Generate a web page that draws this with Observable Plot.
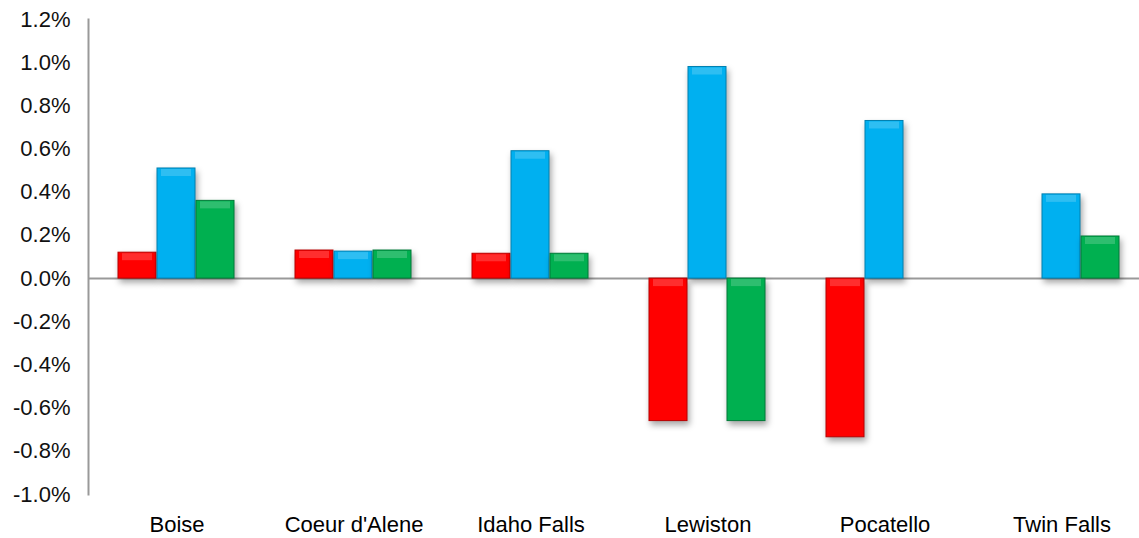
<!DOCTYPE html>
<html>
<head>
<meta charset="utf-8">
<script src="https://cdn.jsdelivr.net/npm/d3@7"></script>
<script src="https://cdn.jsdelivr.net/npm/@observablehq/plot@0.6"></script>
<style>
  html, body { margin: 0; padding: 0; background: #fff; }
  .bars rect { filter: drop-shadow(2px 4px 3px rgba(0,0,0,0.35)); }
</style>
</head>
<body>
<div id="chart"></div>
<script>
const cities = ["Boise", "Coeur d'Alene", "Idaho Falls", "Lewiston", "Pocatello", "Twin Falls"];
const seriesNames = ["Series 1", "Series 2", "Series 3"];
const seriesColors = ["#FF0000", "#00B0F0", "#00B050"];
const seriesStrokes = ["#B80000", "#0080B0", "#007A38"];
const series1 = [0.12, 0.13, 0.115, -0.66, -0.735, null];
const series2 = [0.51, 0.125, 0.59, 0.98, 0.73, 0.39];
const series3 = [0.36, 0.13, 0.115, -0.66, null, 0.195];
const yTicks = [-1.0, -0.8, -0.6, -0.4, -0.2, 0.0, 0.2, 0.4, 0.6, 0.8, 1.0, 1.2];

const allSeries = [series1, series2, series3];
const data = [];
cities.forEach((c, i) => {
  allSeries.forEach((s, j) => {
    if (s[i] != null) data.push({city: c, series: seriesNames[j], value: s[i]});
  });
});

const chart = Plot.plot({
  width: 1139,
  height: 538,
  marginLeft: 88,
  marginRight: -11,
  marginTop: 19,
  marginBottom: 44,
  style: {fontFamily: "'Liberation Sans', Arial, sans-serif", background: "#fff"},
  fx: {domain: cities, padding: 0, label: null, axis: null},
  x: {domain: seriesNames, paddingInner: 0.025, paddingOuter: 0.78, axis: null},
  y: {domain: [-1.0, 1.2], axis: null},
  color: {domain: seriesNames, range: seriesColors},
  marks: [
    Plot.frame({anchor: "left", facetAnchor: "left", stroke: "#999", strokeWidth: 2}),
    Plot.ruleY([0], {stroke: "#999", strokeWidth: 2}),
    Plot.barY(data, {
      fx: "city", x: "series", y: "value", fill: "series",
      stroke: d => seriesStrokes[seriesNames.indexOf(d.series)],
      strokeWidth: 1,
      className: "bars"
    }),
    Plot.tickY(data, {
      fx: "city", x: "series", y: d => Math.max(0, d.value),
      stroke: "#fff", strokeOpacity: 0.18, strokeWidth: 7,
      dy: 4, insetLeft: 4, insetRight: 4
    }),
    Plot.axisY({
      ticks: yTicks, tickSize: 0, tickPadding: 18, label: null,
      tickFormat: d => d.toFixed(1) + "%",
      fontSize: 22, fill: "#111"
    }),
    Plot.axisFx({
      anchor: "bottom", tickSize: 0, tickPadding: 22,
      fontSize: 22, fill: "#000", label: null
    })
  ]
});
document.getElementById("chart").appendChild(chart);
</script>
</body>
</html>
